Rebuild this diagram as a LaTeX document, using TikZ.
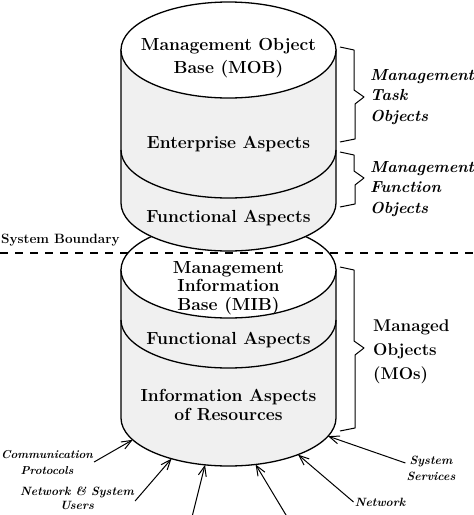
\documentclass[tikz,border=0pt]{standalone}
\usepackage{fontspec}
\usetikzlibrary{calc}
\usetikzlibrary{arrows.meta}

\begin{document}
\begin{tikzpicture}[x=1pt, y=-1pt,
	body/.style = {draw=black, fill=black!6, line width=1.3pt},
	lid/.style = {draw=black, fill=white, line width=1.3pt},
	seam/.style = {draw=black, line width=1.3pt},
	lab/.style = {font=\fontsize{17.5}{23}\selectfont\bfseries, align=center, inner sep=1pt},
	side/.style = {font=\fontsize{16}{20.5}\selectfont\bfseries\itshape, align=left, anchor=west, inner sep=0pt},
	foot/.style = {font=\fontsize{12}{16}\selectfont\bfseries\itshape, align=center, inner sep=1pt},
	arr/.style = {line width=1pt, -{Straight Barb[length=10pt, width=8pt]}},
	brc/.style = {line width=1pt, line join=round}
]
\useasboundingbox (0,0) rectangle (474,515);

% Radii and centres of the two cylinders (lid, seam, floor)
\def\rx{107.5}
\def\ry{48}
\coordinate (mobTop) at (228.5,50);
\coordinate (mobSeam) at (228.5,150);
\coordinate (mobBot) at (228.5,203);
\coordinate (mibTop) at (228.5,270);
\coordinate (mibSeam) at (228.5,320);
\coordinate (mibBot) at (228.5,418);

% Lower cylinder: MIB
\path[body] ($(mibTop)+(-\rx,0)$) -- ($(mibBot)+(-\rx,0)$)
  arc[start angle=180, end angle=0, x radius=\rx, y radius=\ry] -- ($(mibTop)+(\rx,0)$) -- cycle;
\path[lid] (mibTop) ellipse[x radius=\rx, y radius=\ry];
\draw[seam] ($(mibSeam)+(-\rx,0)$) arc[start angle=180, end angle=0, x radius=\rx, y radius=\ry];

% Upper cylinder: MOB (drawn over the lid of the MIB)
\path[body] ($(mobTop)+(-\rx,0)$) -- ($(mobBot)+(-\rx,0)$)
  arc[start angle=180, end angle=0, x radius=\rx, y radius=\ry] -- ($(mobTop)+(\rx,0)$) -- cycle;
\path[lid] (mobTop) ellipse[x radius=\rx, y radius=\ry];
\draw[seam] ($(mobSeam)+(-\rx,0)$) arc[start angle=180, end angle=0, x radius=\rx, y radius=\ry];

% System boundary
\node[font=\fontsize{13.5}{15}\selectfont\bfseries, anchor=west, inner sep=0pt] (sysb) at (1,240) {System Boundary};
\draw[line width=1.2pt, dash pattern=on 8pt off 7pt] (0,253) -- (474,253);

% Texts inside the cylinders
\node[lab] (mob) at (228.5,58) {Management Object\\Base (MOB)};
\node[lab] (ent) at (228.5,144) {Enterprise Aspects};
\node[lab] (fnA) at (228.5,218) {Functional Aspects};
\node[lab, font=\fontsize{17.5}{18.5}\selectfont\bfseries] (mib) at (228.5,288) {Management\\Information\\Base (MIB)};
\node[lab] (fnB) at (228.5,340) {Functional Aspects};
\node[lab, font=\fontsize{17.5}{19}\selectfont\bfseries] (inf) at (228.5,405) {Information Aspects\\of Resources};

% Braces on the right
\foreach \top/\tip/\bot in {47/97/142, 152/178/207, 267/348/431} {
  \draw[brc] (340,\top) -- (354,\top+3) -- (354,\tip-7) -- (364,\tip) -- (355,\tip+7) -- (355,\bot-3) -- (340,\bot);
}
\node[side] (task) at (370,97) {Management\\Task\\Objects};
\node[side] (func) at (370,189) {Management\\Function\\Objects};
\node[side, font=\fontsize{17}{24}\selectfont\bfseries] (mos) at (373,352) {Managed\\Objects\\(MOs)};

% Inputs at the foot of the MIB
\node[foot, font=\fontsize{11.5}{16}\selectfont\bfseries\itshape] (comm) at (47,462) {Communication\\Protocols};
\node[foot, font=\fontsize{12}{14}\selectfont\bfseries\itshape] (nsu) at (77,498) {Network \& System\\Users};
\node[foot] (net) at (380,502) {Network};
\node[foot] (ss) at (431,468) {System\\Services};
\coordinate (s3) at (190,525);
\coordinate (s4) at (292,525);

\foreach \n/\a in {t1/153, t2/122, t3/102.6, t4/75.4, t5/49.7, t6/22.2}
  \coordinate (\n) at ($(mibBot)+({\rx*cos(\a)},{\ry*sin(\a)})$);

\draw[arr] (comm.east) -- (t1);
\draw[arr] ([yshift=-3pt]nsu.east) -- (t2);
\draw[arr] (s3) -- (t3);
\draw[arr] (s4) -- (t4);
\draw[arr] (net.west) -- (t5);
\draw[arr] ([yshift=5pt]ss.west) -- (t6);

\end{tikzpicture}
\end{document}
